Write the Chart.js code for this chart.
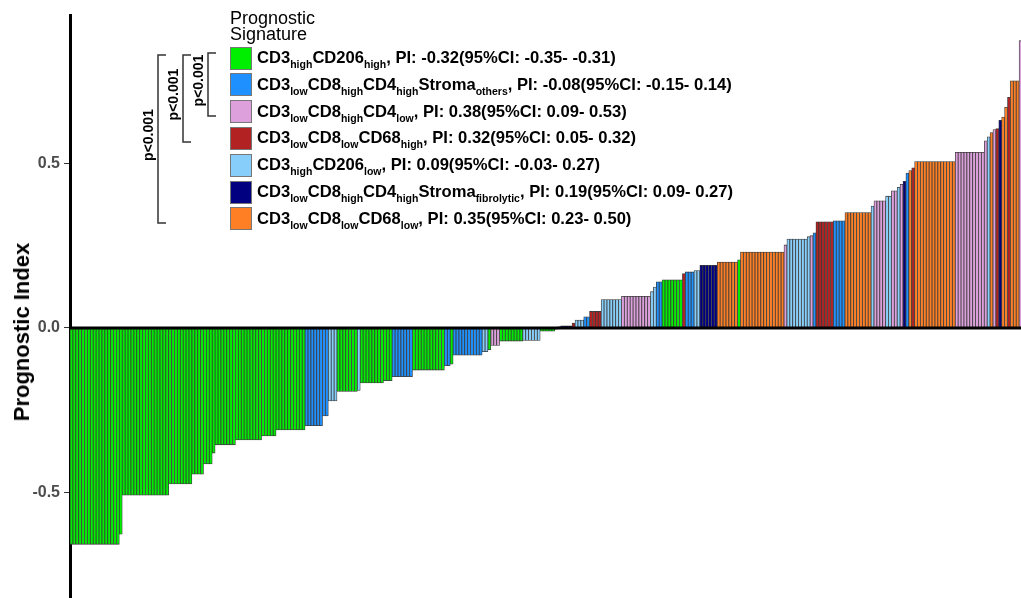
<!DOCTYPE html>
<html>
<head>
<meta charset="utf-8">
<script src="https://cdn.jsdelivr.net/npm/chart.js@4.4.0/dist/chart.umd.min.js"></script>
<style>
  html, body { margin: 0; padding: 0; background: #fff; overflow: hidden; }
  #wrap { position: relative; width: 1021px; height: 598px; overflow: hidden; font-family: "Liberation Sans", Arial, sans-serif; }
  #chart { position: absolute; left: 0; top: 0; }
  #ytitle { position: absolute; left: 22px; top: 332px; transform: translate(-50%, -50%) rotate(-90deg);
            font-size: 22px; font-weight: bold; color: #000; white-space: nowrap; }
  #ltitle { position: absolute; left: 230px; top: 10px; font-size: 18px; line-height: 16px; color: #000; }
  .lrow { position: absolute; left: 230px; height: 24px; display: flex; align-items: center; white-space: nowrap; }
  .swatch { width: 22px; height: 23px; border: 1px solid #777; box-sizing: border-box; margin-right: 5px; }
  .ltext { font-size: 16.6px; font-weight: bold; color: #000; }
  .ltext sub { font-size: 10.5px; vertical-align: -5px; line-height: 0; }
  #brackets { position: absolute; left: 0; top: 0; }
</style>
</head>
<body>
<div id="wrap">
  <canvas id="chart" width="1022" height="598"></canvas>
  <div id="ytitle">Prognostic Index</div>
  <div id="ltitle">Prognostic<br>Signature</div>
  <div id="legend"></div>
  <svg id="brackets" width="240" height="240" font-family="Liberation Sans, Arial, sans-serif"></svg>
</div>
<script>
// signature groups (legend order)
const groupLabels = [
    'CD3<sub>high</sub>CD206<sub>high</sub>',
    'CD3<sub>low</sub>CD8<sub>high</sub>CD4<sub>high</sub>Stroma<sub>others</sub>',
    'CD3<sub>low</sub>CD8<sub>high</sub>CD4<sub>low</sub>',
    'CD3<sub>low</sub>CD8<sub>low</sub>CD68<sub>high</sub>',
    'CD3<sub>high</sub>CD206<sub>low</sub>',
    'CD3<sub>low</sub>CD8<sub>high</sub>CD4<sub>high</sub>Stroma<sub>fibrolytic</sub>',
    'CD3<sub>low</sub>CD8<sub>low</sub>CD68<sub>low</sub>'
];
const groupStats = [
    'PI: -0.32(95%CI: -0.35- -0.31)',
    'PI: -0.08(95%CI: -0.15- 0.14)',
    'PI: 0.38(95%CI: 0.09- 0.53)',
    'PI: 0.32(95%CI: 0.05- 0.32)',
    'PI: 0.09(95%CI: -0.03- 0.27)',
    'PI: 0.19(95%CI: 0.09- 0.27)',
    'PI: 0.35(95%CI: 0.23- 0.50)'
];
const groupColors = ['#00ee00', '#1e90ff', '#dda0dd', '#b22222', '#87cefa', '#000080', '#ff7f24'];

// patients sorted by prognostic index, stored as runs of equal value
const stepValues = [-0.657, -0.626, -0.508, -0.474, -0.444, -0.413, -0.38, -0.355, -0.34, -0.328,
    -0.31, -0.297, -0.267, -0.222, -0.193, -0.19, -0.167, -0.16, -0.148, -0.128,
    -0.115, -0.11, -0.083, -0.072, -0.066, -0.053, -0.04, -0.038, -0.01, -0.004,
    0.003, 0.006, 0.015, 0.024, 0.034, 0.05, 0.086, 0.096, 0.11, 0.124,
    0.14, 0.146, 0.165, 0.17, 0.174, 0.19, 0.2, 0.207, 0.23, 0.252,
    0.27, 0.277, 0.28, 0.289, 0.322, 0.325, 0.35, 0.37, 0.386, 0.40,
    0.416, 0.427, 0.436, 0.445, 0.47, 0.478, 0.486, 0.505, 0.533, 0.568,
    0.58, 0.593, 0.602, 0.605, 0.63, 0.64, 0.67, 0.70, 0.75, 0.872];
const stepCounts = [17, 1, 16, 8, 4, 3, 1, 7, 9, 5,
    10, 6, 2, 3, 7, 1, 8, 3, 7, 11,
    2, 1, 10, 2, 1, 3, 8, 6, 5, 1,
    1, 4, 1, 3, 2, 4, 7, 10, 1, 1,
    2, 7, 1, 3, 2, 6, 7, 1, 15, 1,
    7, 1, 1, 1, 6, 4, 9, 1, 4, 2,
    2, 1, 1, 1, 1, 1, 1, 14, 10, 1,
    1, 1, 1, 1, 1, 1, 1, 1, 3, 1];
const stepGroups = [0, 0, 0, 0, 0, 0, 0, 0, 0, 0,
    0, 1, 1, 4, 0, 4, 0, 0, 1, 0,
    1, 0, 1, 4, 0, 2, 0, 4, 0, 0,
    5, 5, 3, 4, 1, 3, 4, 2, 4, 4,
    1, 0, 3, 1, 4, 5, 6, 0, 6, 2,
    4, 4, 2, 1, 3, 1, 6, 4, 2, 4,
    2, 4, 2, 5, 1, 6, 3, 6, 2, 2,
    4, 6, 2, 3, 5, 6, 6, 3, 6, 2];

const yTicks = [-0.5, 0, 0.5];

// p-value brackets: top y, bottom y, line x, label
const bracketTops = [53, 55, 55];
const bracketBottoms = [116, 142, 223];
const bracketX = [208, 183, 158];
const bracketLabels = ['p<0.001', 'p<0.001', 'p<0.001'];

const values = [];
const colors = [];
stepValues.forEach((v, i) => {
    for (let k = 0; k < stepCounts[i]; k++) {
        values.push(v);
        colors.push(groupColors[stepGroups[i]]);
    }
});
const labels = values.map((v, i) => 'P' + (i + 1));

// legend
const legend = document.getElementById('legend');
groupLabels.forEach((lab, i) => {
    const row = document.createElement('div');
    row.className = 'lrow';
    row.style.top = (46 + i * 26.8) + 'px';
    row.innerHTML = '<div class="swatch" style="background:' + groupColors[i] + '"></div>' +
        '<span class="ltext">' + lab + ', ' + groupStats[i] + '</span>';
    legend.appendChild(row);
});

// brackets
const svg = document.getElementById('brackets');
let svgHtml = '';
bracketX.forEach((x, i) => {
    const t = bracketTops[i], b = bracketBottoms[i];
    svgHtml += '<path d="M' + (x + 8) + ' ' + t + ' H' + x + ' V' + b + ' H' + (x + 8) + '" fill="none" stroke="#333" stroke-width="1.5"/>';
    const cy = (t + b) / 2 - 4;
    svgHtml += '<text x="' + (x - 5) + '" y="' + cy + '" transform="rotate(-90 ' + (x - 5) + ' ' + cy + ')" text-anchor="middle" font-size="14" font-weight="bold" fill="#000">' + bracketLabels[i] + '</text>';
});
svg.innerHTML = svgHtml;

const zeroLine = {
    id: 'zeroLine',
    afterDatasetsDraw(chart) {
        const { ctx, chartArea, scales } = chart;
        const y = scales.y.getPixelForValue(0);
        ctx.save();
        ctx.strokeStyle = '#000';
        ctx.lineWidth = 3;
        ctx.beginPath();
        ctx.moveTo(chartArea.left, y);
        ctx.lineTo(chartArea.right, y);
        ctx.stroke();
        ctx.restore();
    }
};

const ctx = document.getElementById('chart').getContext('2d');
new Chart(ctx, {
    type: 'bar',
    data: {
        labels: labels,
        datasets: [{
            data: values,
            backgroundColor: colors,
            borderColor: '#3c3c3c',
            borderWidth: 0.8,
            barPercentage: 1,
            categoryPercentage: 1
        }]
    },
    options: {
        responsive: false,
        animation: false,
        devicePixelRatio: 1,
        layout: { padding: { top: 15, left: 0, right: 0, bottom: 0 } },
        plugins: { legend: { display: false }, tooltip: { enabled: false } },
        scales: {
            x: { display: false },
            y: {
                min: -0.82,
                max: 0.95,
                afterFit(scale) {
                    scale.width = 70;
                    scale.paddingTop = 0;
                    scale.paddingBottom = 0;
                },
                afterBuildTicks(scale) { scale.ticks = yTicks.map(v => ({ value: v })); },
                ticks: {
                    color: '#4d4d4d',
                    padding: 4,
                    font: { family: 'Liberation Sans, Arial, sans-serif', size: 16, weight: 'bold' },
                    callback: v => v.toFixed(1)
                },
                grid: { drawOnChartArea: false, drawTicks: true, tickLength: 6, tickColor: '#333', tickWidth: 1 },
                border: { display: true, color: '#000', width: 3 }
            }
        }
    },
    plugins: [zeroLine]
});
</script>
</body>
</html>
